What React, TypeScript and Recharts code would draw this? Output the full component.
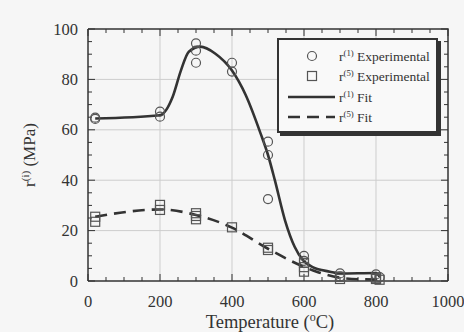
import { ComposedChart, Line, Scatter, XAxis, YAxis, Label } from "recharts";

const SERIF = "'Liberation Serif', 'Times New Roman', serif";
const INK = "#333";
const GRID = "#cdcdcd";

// x ticks every 50 (labels on multiples of 200), y ticks every 5 (labels on multiples of 20)
const xTicks = [0, 50, 100, 150, 200, 250, 300, 350, 400, 450, 500, 550, 600, 650, 700, 750, 800, 850, 900, 950, 1000];
const yTicks = [0, 5, 10, 15, 20, 25, 30, 35, 40, 45, 50, 55, 60, 65, 70, 75, 80, 85, 90, 95, 100];
const xGrid = [200, 400, 600, 800];
const yGrid = [20, 40, 60, 80];

// r(1) experimental (circles)
const r1Exp = [
  { t: 20, v: 64.8 }, { t: 20, v: 64.3 },
  { t: 200, v: 67.2 }, { t: 200, v: 65.2 },
  { t: 300, v: 94.3 }, { t: 300, v: 91.4 }, { t: 300, v: 86.6 },
  { t: 400, v: 86.6 }, { t: 400, v: 83.1 },
  { t: 500, v: 55.3 }, { t: 500, v: 50 }, { t: 500, v: 32.5 },
  { t: 600, v: 10 }, { t: 600, v: 8 },
  { t: 700, v: 3 }, { t: 700, v: 1.8 },
  { t: 800, v: 2.6 }, { t: 810, v: 1.5 },
];

// r(5) experimental (squares)
const r5Exp = [
  { t: 20, v: 25.5 }, { t: 20, v: 23.5 },
  { t: 200, v: 30.2 }, { t: 200, v: 28.2 },
  { t: 300, v: 26.9 }, { t: 300, v: 25.8 }, { t: 300, v: 24.5 },
  { t: 400, v: 21.3 },
  { t: 500, v: 13.2 }, { t: 500, v: 12.3 },
  { t: 600, v: 7.2 }, { t: 600, v: 5.5 }, { t: 600, v: 3.7 },
  { t: 700, v: 1.7 }, { t: 700, v: 0.8 },
  { t: 800, v: 1.3 }, { t: 800, v: 0.8 }, { t: 810, v: 0.5 },
];

// fitted curves
const r1Fit = [
  { t: 20, v: 64.5 }, { t: 200, v: 65.8 }, { t: 235, v: 73 }, { t: 258, v: 83.5 },
  { t: 280, v: 91 }, { t: 312, v: 93 }, { t: 353, v: 90.3 }, { t: 400, v: 83.5 },
  { t: 438, v: 73.8 }, { t: 479, v: 58.7 }, { t: 500, v: 50 }, { t: 519, v: 40 },
  { t: 547, v: 24.2 }, { t: 574, v: 13.6 }, { t: 597, v: 8.3 }, { t: 624, v: 5.5 },
  { t: 672, v: 3.7 }, { t: 700, v: 3 }, { t: 800, v: 3.2 }, { t: 810, v: 1.7 },
];

const r5Fit = [
  { t: 20, v: 25.5 }, { t: 200, v: 28.4 }, { t: 300, v: 26.2 }, { t: 400, v: 21.2 },
  { t: 500, v: 12.8 }, { t: 600, v: 5.6 }, { t: 635, v: 3.7 }, { t: 700, v: 1.3 },
  { t: 751, v: 0.7 }, { t: 810, v: 0.6 },
];

// frame (top + right edges) and grid lines, as value pairs
const frame = [{ t: 0, v: 100 }, { t: 1000, v: 100 }, { t: 1000, v: 0 }];
const gridX = xGrid.map((x) => [{ t: x, v: 0 }, { t: x, v: 100 }]);
const gridY = yGrid.map((y) => [{ t: 0, v: y }, { t: 1000, v: y }]);

// inward tick marks on all four sides
const tickBottom = xTicks.map((t) => ({ t, v: 0 }));
const tickTop = xTicks.map((t) => ({ t, v: 100 }));
const tickLeft = yTicks.map((v) => ({ t: 0, v }));
const tickRight = yTicks.map((v) => ({ t: 1000, v }));

const xLen = (p: any) => (p.payload.t % 200 === 0 ? 7 : 4);
const yLen = (p: any) => (p.payload.v % 20 === 0 ? 7 : 4);

const tickUp = (p: any) => <line x1={p.cx} x2={p.cx} y1={p.cy} y2={p.cy - xLen(p)} stroke={INK} strokeWidth={1} />;
const tickDown = (p: any) => <line x1={p.cx} x2={p.cx} y1={p.cy} y2={p.cy + xLen(p)} stroke={INK} strokeWidth={1} />;
const tickIn = (p: any) => <line x1={p.cx} x2={p.cx + yLen(p)} y1={p.cy} y2={p.cy} stroke={INK} strokeWidth={1} />;
const tickBack = (p: any) => <line x1={p.cx} x2={p.cx - yLen(p)} y1={p.cy} y2={p.cy} stroke={INK} strokeWidth={1} />;

function BottomTick(props: any) {
  const { x, y, payload } = props;
  if (payload.value % 200 !== 0) return <g />;
  return (
    <text x={x} y={y + 26} textAnchor="middle" fontSize={16.5} fontFamily={SERIF} fill={INK}>
      {payload.value}
    </text>
  );
}

function LeftTick(props: any) {
  const { x, y, payload } = props;
  if (payload.value % 20 !== 0) return <g />;
  return (
    <text x={x - 10} y={y + 5.5} textAnchor="end" fontSize={16.5} fontFamily={SERIF} fill={INK}>
      {payload.value}
    </text>
  );
}

const circleShape = (p: any) => (
  <circle cx={p.cx} cy={p.cy} r={4.5} fill="none" stroke="#555" strokeWidth={1.2} />
);
const squareShape = (p: any) => (
  <rect x={p.cx - 4.5} y={p.cy - 4.5} width={9} height={9} fill="none" stroke="#555" strokeWidth={1.2} />
);

function Sup({ children }: { children: string }) {
  return (
    <tspan baselineShift="super" fontSize="0.65em">
      {children}
    </tspan>
  );
}

const legendRows = [
  { key: "c", label: "(1)", name: " Experimental" },
  { key: "s", label: "(5)", name: " Experimental" },
  { key: "l", label: "(1)", name: " Fit" },
  { key: "d", label: "(5)", name: " Fit" },
];

function LegendBox() {
  return (
    <div
      style={{
        position: "absolute",
        left: 277,
        top: 38,
        width: 161,
        height: 95,
        border: `2px solid ${INK}`,
        boxShadow: `3px 3px 0 ${INK}`,
        background: "#f9f9f9",
        boxSizing: "border-box",
        padding: "6px 0 0 0",
      }}
    >
      {legendRows.map((r) => (
        <div key={r.key} style={{ display: "flex", alignItems: "center", height: 20.3 }}>
          <svg width={60} height={20} style={{ flex: "none" }}>
            {r.key === "c" && <circle cx={33} cy={10} r={4.5} fill="none" stroke="#555" strokeWidth={1.2} />}
            {r.key === "s" && <rect x={28.5} y={5.5} width={9} height={9} fill="none" stroke="#555" strokeWidth={1.2} />}
            {r.key === "l" && <line x1={9} x2={56} y1={10} y2={10} stroke={INK} strokeWidth={2.5} />}
            {r.key === "d" && (
              <line x1={9} x2={56} y1={10} y2={10} stroke={INK} strokeWidth={2.5} strokeDasharray="12 7" />
            )}
          </svg>
          <svg width={100} height={20} style={{ flex: "none" }}>
            <text x={0} y={15} fontSize={13.5} fontFamily={SERIF} fill={INK}>
              r<Sup>{r.label}</Sup>
              <tspan>{r.name}</tspan>
            </text>
          </svg>
        </div>
      ))}
    </div>
  );
}

function YTitle(props: any) {
  const { viewBox } = props;
  const cx = 35;
  const cy = viewBox.y + viewBox.height / 2;
  return (
    <text
      x={cx}
      y={cy}
      transform={`rotate(-90 ${cx} ${cy})`}
      textAnchor="middle"
      fontSize={17}
      fontFamily={SERIF}
      fill={INK}
    >
      r<Sup>(i)</Sup>
      <tspan> (MPa)</tspan>
    </text>
  );
}

function XTitle(props: any) {
  const { viewBox } = props;
  const cx = viewBox.x + viewBox.width / 2;
  return (
    <text x={cx + 2} y={328} textAnchor="middle" fontSize={18.5} fontFamily={SERIF} fill={INK}>
      Temperature (<Sup>o</Sup>C)
    </text>
  );
}

const plain = { dot: false, activeDot: false, isAnimationActive: false, legendType: "none" as const };

export default function App() {
  return (
    <div style={{ position: "fixed", left: 0, top: 0, width: 464, height: 332, background: "#f6f6f6" }}>
      <ComposedChart width={464} height={332} margin={{ top: 29, right: 16, bottom: 0, left: 0 }}>
        <XAxis
          dataKey="t"
          type="number"
          domain={[0, 1000]}
          ticks={xTicks}
          interval={0}
          height={51}
          tickSize={0}
          tickMargin={0}
          tick={<BottomTick />}
          axisLine={{ stroke: INK, strokeWidth: 1.5 }}
        >
          <Label content={<XTitle />} />
        </XAxis>
        <YAxis
          type="number"
          domain={[0, 100]}
          ticks={yTicks}
          interval={0}
          width={88}
          tickSize={0}
          tickMargin={0}
          tick={<LeftTick />}
          axisLine={{ stroke: INK, strokeWidth: 1.5 }}
        >
          <Label content={<YTitle />} />
        </YAxis>
        {gridX.map((d, i) => (
          <Line key={`gx${i}`} data={d} dataKey="v" type="linear" stroke={GRID} strokeWidth={1} {...plain} />
        ))}
        {gridY.map((d, i) => (
          <Line key={`gy${i}`} data={d} dataKey="v" type="linear" stroke={GRID} strokeWidth={1} {...plain} />
        ))}
        <Line data={frame} dataKey="v" type="linear" stroke={INK} strokeWidth={1.5} {...plain} />
        <Line data={r1Fit} dataKey="v" type="monotone" stroke={INK} strokeWidth={2.6} {...plain} />
        <Line
          data={r5Fit}
          dataKey="v"
          type="monotone"
          stroke={INK}
          strokeWidth={2.6}
          strokeDasharray="12 7"
          {...plain}
        />
        <Scatter data={tickBottom} dataKey="v" shape={tickUp} isAnimationActive={false} />
        <Scatter data={tickTop} dataKey="v" shape={tickDown} isAnimationActive={false} />
        <Scatter data={tickLeft} dataKey="v" shape={tickIn} isAnimationActive={false} />
        <Scatter data={tickRight} dataKey="v" shape={tickBack} isAnimationActive={false} />
        <Scatter data={r1Exp} dataKey="v" shape={circleShape} isAnimationActive={false} />
        <Scatter data={r5Exp} dataKey="v" shape={squareShape} isAnimationActive={false} />
      </ComposedChart>
      <LegendBox />
    </div>
  );
}
